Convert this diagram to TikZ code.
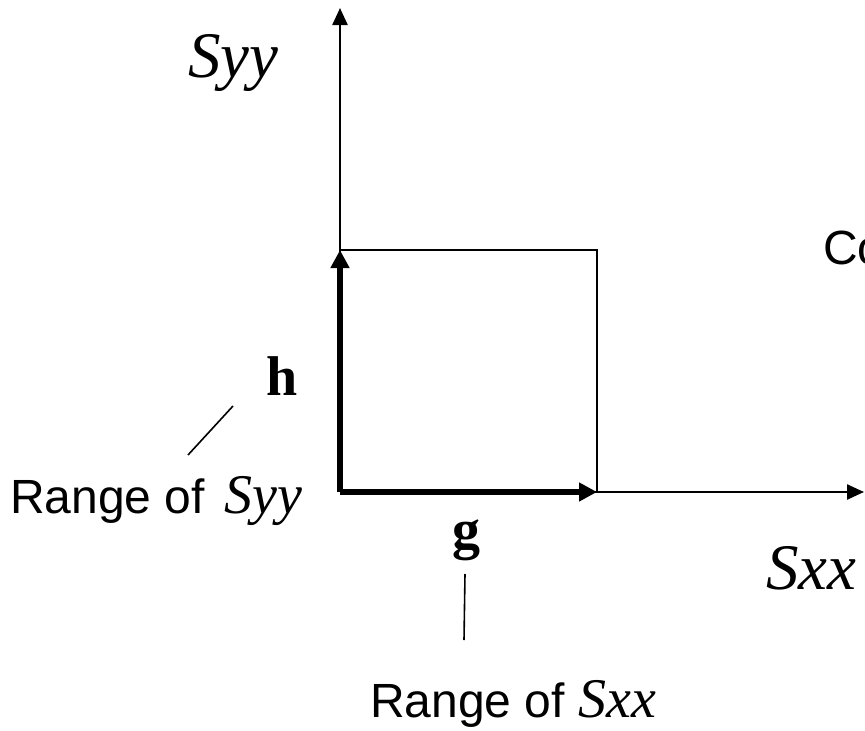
\documentclass[tikz,border=0pt]{standalone}
\usepackage{fontspec}
\setmainfont{Liberation Serif}
\newfontfamily\arialfont{Liberation Sans}
\usetikzlibrary{arrows.meta}

\begin{document}
\begin{tikzpicture}[x=1pt, y=-1pt, >={Triangle[length=17pt, width=15pt]},
  axis/.style={line width=2.4pt, ->},
  rangearrow/.style={line width=6pt, -{Triangle[length=18pt, width=18pt]}},
  box/.style={line width=2pt},
  lead/.style={line width=1.6pt},
  stress/.style={font=\fontsize{65}{72}\selectfont\itshape, inner sep=0pt, anchor=base west},
  vec/.style={font=\fontsize{56}{64}\selectfont\bfseries, inner sep=0pt, anchor=base west},
  caption/.style={font=\arialfont\fontsize{48}{54}\selectfont, inner sep=0pt, anchor=base west}]
  \useasboundingbox (0,0) rectangle (865,731);
  \coordinate (O) at (340,492);
  \coordinate (ytop) at (340,8);
  \coordinate (xend) at (864,492);
  \coordinate (H) at (340,250);
  \coordinate (G) at (597,492);
  \coordinate (C) at (597,250);
  % square of the ranges
  \draw[box] (H) -- (C) -- (G);
  \draw[axis] (O) -- (ytop);
  \draw[axis] (O) -- (xend);
  \draw[rangearrow] (O) -- (H);
  \draw[rangearrow] (O) -- (G);
  % labels
  \node[stress] (syy) at (188,77) {Syy};
  \node[stress] (sxx) at (766,589) {Sxx};
  \node[caption] (co) at (823,264) {Co};
  \node[vec] (h) at (266,395) {h};
  \node[vec] (g) at (452,548) {g};
  \node[caption] (rsyy) at (10,513) {Range of\hspace{0.4em}{\rmfamily\itshape\fontsize{56}{62}\selectfont Syy}};
  \node[caption] (rsxx) at (370,717) {Range of {\rmfamily\itshape\fontsize{56}{62}\selectfont Sxx}};
  \coordinate (hfoot) at (188,455);
  \coordinate (hhead) at (233,406);
  \coordinate (ghead) at (465,574);
  \coordinate (gfoot) at (464,640);
  \draw[lead] (hfoot) -- (hhead);
  \draw[lead] (ghead) -- (gfoot);
\end{tikzpicture}
\end{document}
